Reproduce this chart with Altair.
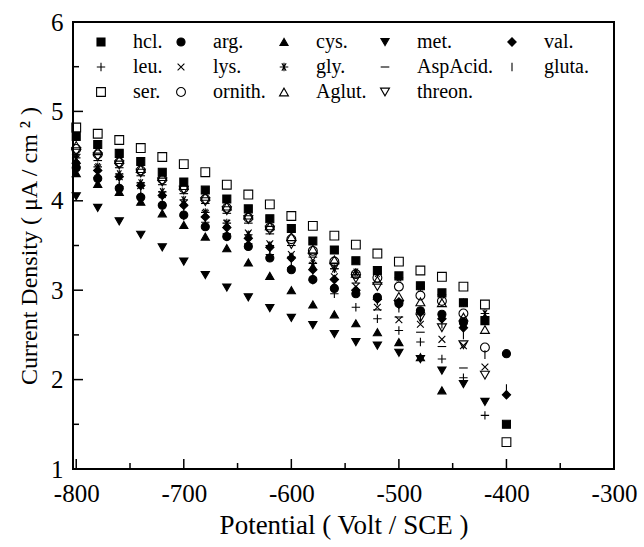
import altair as alt
import pandas as pd

potential = [-800, -780, -760, -740, -720, -700, -680, -660, -640, -620, -600,
             -580, -560, -540, -520, -500, -480, -460, -440, -420, -400]

series_names = ["hcl.", "arg.", "cys.", "met.", "val.", "leu.", "lys.", "gly.",
                "AspAcid.", "gluta.", "ser.", "ornith.", "Aglut.", "threon."]

hcl = [4.72, 4.63, 4.53, 4.44, 4.32, 4.21, 4.12, 4.02, 3.91, 3.80, 3.69, 3.55, 3.45, 3.33, 3.22, 3.16, 3.05, 2.97, 2.86, 2.66, 1.50]
arg = [4.37, 4.25, 4.14, 4.04, 3.95, 3.84, 3.71, 3.60, 3.49, 3.36, 3.23, 3.12, 3.02, 2.96, 2.92, 2.85, 2.77, 2.73, 2.64, None, 2.29]
cys = [4.31, 4.19, 4.10, 3.99, 3.86, 3.73, 3.60, 3.47, 3.31, 3.16, 3.00, 2.84, 2.73, 2.63, 2.53, 2.42, 2.25, 1.88, None, None, None]
met = [4.05, 3.92, 3.77, 3.62, 3.48, 3.32, 3.17, 3.03, 2.92, 2.80, 2.69, 2.61, 2.51, 2.42, 2.38, 2.30, 2.23, 2.10, 1.95, 1.75, None]
val = [4.42, 4.34, 4.27, 4.17, 4.06, 3.95, 3.82, 3.70, 3.58, 3.48, 3.36, 3.23, 3.12, 3.00, 2.90, 2.87, 2.75, 2.68, 2.58, None, 1.83]
leu = [4.38, 4.26, 4.16, 4.05, 3.95, 3.83, 3.76, 3.63, 3.52, 3.40, 3.25, 3.11, 2.96, 2.81, 2.68, 2.55, 2.42, 2.23, 2.02, 1.60, None]
lys = [4.47, 4.37, 4.27, 4.17, 4.07, 3.97, 3.86, 3.75, 3.64, 3.52, 3.40, 3.28, 3.15, 3.04, 2.81, 2.67, 2.62, 2.45, 2.38, 2.14, None]
gly = [4.48, 4.38, 4.30, 4.20, 4.10, 4.01, 3.87, 3.75, 3.62, 3.50, 3.37, 3.30, 3.24, 3.20, 3.19, 3.14, 3.04, 2.95, 2.86, 2.74, None]
asp = [4.52, 4.45, 4.37, 4.28, 4.18, 4.08, 3.97, 3.86, 3.75, 3.63, 3.50, 3.37, 3.24, 3.08, 2.78, 2.70, 2.53, 2.37, 2.13, None, None]
gluta = [4.40, 4.30, 4.20, 4.10, 4.00, 3.90, 3.78, 3.66, 3.54, 3.42, 3.30, 3.18, 3.08, 2.98, 2.88, 2.80, 2.70, 2.62, 2.50, 2.28, 1.90]
ser = [4.82, 4.75, 4.68, 4.59, 4.49, 4.41, 4.32, 4.18, 4.07, 3.96, 3.83, 3.72, 3.61, 3.51, 3.41, 3.32, 3.22, 3.15, 3.04, 2.84, 1.30]
ornith = [4.58, 4.52, 4.43, 4.34, 4.24, 4.14, 4.02, 3.92, 3.81, 3.70, 3.57, 3.44, 3.32, 3.18, 3.14, 3.04, 2.94, 2.88, 2.74, 2.36, None]
aglut = [4.62, 4.56, 4.46, 4.36, 4.27, 4.17, 4.05, 3.94, 3.84, 3.72, 3.60, 3.46, 3.34, 3.19, 3.11, 2.93, 2.87, 2.86, 2.70, 2.56, None]
threon = [4.55, 4.49, 4.40, 4.31, 4.21, 4.12, 3.99, 3.89, 3.79, 3.67, 3.51, 3.37, 3.26, 3.13, 3.04, 2.84, 2.69, 2.58, 2.39, 2.05, None]

x_major = [-800, -700, -600, -500, -400]
x_minor = [-750, -650, -550, -450, -350]
y_major = [2, 3, 4, 5]
y_minor = [1.5, 2.5, 3.5, 4.5, 5.5]
x_labels = [-800, -700, -600, -500, -400, -300]
y_labels = [1, 2, 3, 4, 5, 6]

all_series = [hcl, arg, cys, met, val, leu, lys, gly, asp, gluta, ser, ornith, aglut, threon]

rows = []
for name, vals in zip(series_names, all_series):
    for xv, yv in zip(potential, vals):
        if yv is not None:
            rows.append({"Potential": xv, "Density": yv, "Series": name})
df = pd.DataFrame(rows)

shapes = [
    "square", "circle", "triangle-up", "triangle-down", "diamond",
    "M-1,0L1,0M0,-1L0,1",
    "M-0.8,-0.8L0.8,0.8M-0.8,0.8L0.8,-0.8",
    "M-1,0L1,0M-0.5,-0.87L0.5,0.87M-0.5,0.87L0.5,-0.87M0,-1L0,1",
    "M-1,0L1,0",
    "M0,-1L0,1",
    "square", "circle", "triangle-up", "triangle-down",
]
fills = ["black"] * 5 + ["transparent"] * 9
sizes = [64, 81, 130, 130, 110, 90, 90, 90, 64, 64, 56, 64, 115, 115]

FONT = "Liberation Serif"
W, H = 541, 447
xscale = alt.Scale(domain=[-803, -300], nice=False, zero=False)
yscale = alt.Scale(domain=[1, 6], nice=False, zero=False)

x_axis = alt.Axis(values=x_labels, labelExpr="'' + datum.value", title="Potential ( Volt / SCE )",
                  ticks=False, domain=False, grid=False, labelFlush=False, labelOverlap=False,
                  labelFont=FONT, labelFontSize=25, labelColor="black", labelPadding=12,
                  titleFont=FONT, titleFontSize=27, titleFontWeight="normal", titleColor="black",
                  titlePadding=6)
y_axis = alt.Axis(values=y_labels, labelExpr="'' + datum.value", title="Current Density (  μA / cm   ² )",
                  ticks=False, domain=False, grid=False, labelOverlap=False,
                  labelFont=FONT, labelFontSize=25, labelColor="black", labelPadding=10,
                  titleFont=FONT, titleFontSize=24, titleFontWeight="normal", titleColor="black",
                  titlePadding=9)

points = alt.Chart(df).mark_point(stroke="black", strokeWidth=1.1, opacity=1).encode(
    x=alt.X("Potential:Q", scale=xscale, axis=x_axis),
    y=alt.Y("Density:Q", scale=yscale, axis=y_axis),
    shape=alt.Shape("Series:N", scale=alt.Scale(domain=series_names, range=shapes),
                    legend=alt.Legend(title=None, orient="none", direction="horizontal",
                                      legendX=18, legendY=10, columns=5,
                                      labelFont=FONT, labelFontSize=20, labelColor="black",
                                      labelOffset=22, columnPadding=8, rowPadding=5,
                                      symbolStrokeColor="black", symbolStrokeWidth=1.1,
                                      labelLimit=200)),
    fill=alt.Fill("Series:N", scale=alt.Scale(domain=series_names, range=fills)),
    size=alt.Size("Series:N", scale=alt.Scale(domain=series_names, range=sizes)),
)

tx_major = alt.Chart(pd.DataFrame({"Potential": x_major})).mark_rule(color="black", strokeWidth=1.5).encode(
    x=alt.X("Potential:Q", scale=xscale, axis=x_axis), y=alt.value(H), y2=alt.value(H - 10))
tx_minor = alt.Chart(pd.DataFrame({"Potential": x_minor})).mark_rule(color="black", strokeWidth=1.5).encode(
    x=alt.X("Potential:Q", scale=xscale, axis=x_axis), y=alt.value(H), y2=alt.value(H - 6))
ty_major = alt.Chart(pd.DataFrame({"Density": y_major})).mark_rule(color="black", strokeWidth=1.5).encode(
    y=alt.Y("Density:Q", scale=yscale, axis=y_axis), x=alt.value(0), x2=alt.value(10))
ty_minor = alt.Chart(pd.DataFrame({"Density": y_minor})).mark_rule(color="black", strokeWidth=1.5).encode(
    y=alt.Y("Density:Q", scale=yscale, axis=y_axis), x=alt.value(0), x2=alt.value(6))

chart = alt.layer(tx_major, tx_minor, ty_major, ty_minor, points).properties(
    width=W, height=H,
    autosize=alt.AutoSizeParams(type="none"),
    padding={"left": 73, "top": 22, "right": 30, "bottom": 78},
    background="white",
).configure(font=FONT).configure_view(stroke="black", strokeWidth=2)

chart.save("out.html", embed_options={"renderer": "svg", "actions": False})
